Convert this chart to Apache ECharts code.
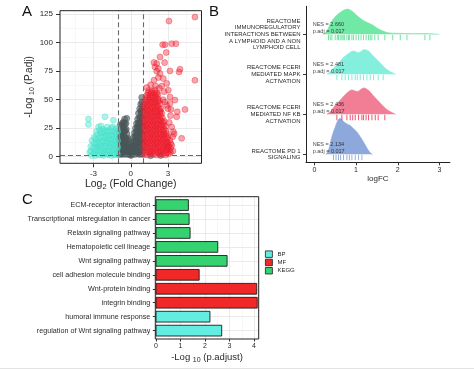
<!DOCTYPE html>
<html>
<head>
<meta charset="utf-8">
<script src="https://cdn.jsdelivr.net/npm/echarts@6/dist/echarts.min.js"></script>
<style>
html,body{margin:0;padding:0;background:#fff;}
#chart{width:474px;height:370px;}
</style>
</head>
<body>
<div id="chart"></div>
<script>
// ---------------- Panel A: volcano plot ----------------
const volcanoXTicks = [-3, 0, 3];
const volcanoYTicks = [0, 25, 50, 75, 100, 125];
const volcanoXMinor = [-4.5, -1.5, 1.5, 4.5];
const volcanoYMinor = [12.5, 37.5, 62.5, 87.5, 112.5];
const foldChangeCutoffs = [-1, 1];
const padjCutoff = 1.3;

const downPoints = [
  [-3.41,33],[-3.41,28.3],[-2.07,35],[-1.4,32],
  [-3.3,4],[-3.22,9],[-3.12,14],[-3.15,1],[-3.0,3],[-2.95,17],[-2.9,8],[-2.85,1],[-2.8,12],[-2.75,22],
  [-2.7,5],[-2.65,8.5],[-2.6,16],[-2.6,26],[-2.55,1.5],[-2.5,10],[-2.45,21],[-2.4,27],[-2.35,4],[-2.3,6],
  [-2.3,14],[-2.25,24],[-2.2,18],[-2.2,1],[-2.12,3],[-2.1,10],[-2.05,20],[-2.0,6],[-1.98,23],[-1.95,14],
  [-1.9,26],[-1.88,2],[-1.8,18],[-1.78,9],[-1.75,2],[-1.7,12],[-1.68,23],[-1.62,5],[-1.6,15],[-1.55,1],
  [-1.5,19],[-1.48,8],[-1.45,26],[-1.4,11],[-1.35,2],[-1.3,15],[-1.28,21],[-1.25,6],[-1.2,24],[-1.15,11],
  [-1.12,18],[-1.08,2],[-1.05,8],[-1.05,14],[-1.05,22],
  [-3.2,4.5],[-3.05,8],[-2.95,12],[-2.9,3],[-2.8,16],[-2.78,6],[-2.7,19],[-2.68,11],[-2.6,3],[-2.55,13],
  [-2.5,23],[-2.5,6],[-2.42,17],[-2.4,9],[-2.35,12],[-2.3,21],[-2.28,2],[-2.2,8],[-2.18,14],[-2.15,22],
  [-2.1,17],[-2.05,4],[-2.0,12],[-1.95,9],[-1.92,19],[-1.85,4],[-1.85,13],[-1.82,22],[-1.75,6],[-1.72,16],
  [-1.65,9],[-1.62,19],[-1.58,25],[-1.55,12],[-1.5,4],[-1.45,15],[-1.42,22],[-1.38,6],[-1.35,18],[-1.3,10],
  [-1.25,2],[-1.22,13],[-1.18,20],[-1.15,7],[-1.12,4],[-1.1,10],[-1.1,25]
];
const nsPoints = [
  [-0.98,2],[-0.98,8],[-0.98,14],[-0.97,20],[-0.9,5],[-0.9,11],[-0.88,17],[-0.88,24],[-0.8,2],[-0.8,8],
  [-0.8,14],[-0.78,20],[-0.76,27],[-0.7,5],[-0.7,11],[-0.68,17],[-0.66,23],[-0.64,30],[-0.6,2],[-0.58,8],
  [-0.57,14],[-0.56,20],[-0.54,26],[-0.5,33],[-0.48,5],[-0.46,11],[-0.45,17],[-0.42,23],[-0.38,29],[-0.36,2],
  [-0.34,8],[-0.32,14],[-0.3,20],[-0.32,33.6],[-0.25,5],[-0.22,11],[-0.2,16],[-0.15,2],[-0.12,7],[-0.08,11],
  [-0.02,3],[0.05,6],[0.1,2],[0.12,9],[0.16,13],[0.2,4],[0.22,17],[0.28,8],[0.3,21],[0.32,13],[0.35,2],
  [0.38,25],[0.4,17],[0.42,7],[0.46,29],[0.48,12],[0.5,21],[0.52,3],[0.55,33],[0.56,26],[0.58,16],[0.6,8],
  [0.62,38],[0.64,21],[0.66,30],[0.68,2],[0.7,12],[0.72,42],[0.74,25],[0.75,35],[0.76,17],[0.78,6],[0.8,46],
  [0.82,30],[0.84,39],[0.85,21],[0.86,11],[0.88,52],[0.9,2],[0.9,34],[0.92,44],[0.93,26],[0.94,16],[0.95,7],
  [-0.94,4],[-0.94,10],[-0.93,16],[-0.92,22],[-0.85,28],[-0.84,3],[-0.84,9],[-0.83,15],[-0.82,21],[-0.74,3],
  [-0.74,9],[-0.73,15],[-0.72,21],[-0.7,27],[-0.64,4],[-0.63,10],[-0.62,16],[-0.6,24],[-0.58,30],[-0.52,3],
  [-0.52,9],[-0.5,15],[-0.5,22],[-0.46,29],[-0.4,4],[-0.4,10],[-0.38,16],[-0.36,24],[-0.28,3],[-0.28,9],
  [-0.26,15],[-0.18,4],[-0.17,9],[-0.05,2],[-0.04,7],[0.02,1],[0.08,4],[0.14,5],[0.18,10],[0.24,6],[0.26,13],
  [0.34,10],[0.36,18],[0.44,4],[0.44,14],[0.44,22],[0.52,8],[0.52,17],[0.53,26],[0.6,3],[0.6,12],[0.6,20],
  [0.6,29],[0.68,8],[0.68,16],[0.69,25],[0.7,34],[0.76,3],[0.78,12],[0.78,21],[0.79,30],[0.8,40],[0.86,5],
  [0.87,15],[0.88,25],[0.88,35],[0.9,48],[0.95,12],[0.95,20],[0.96,30],[0.96,40],
  [2.4,1],[1.6,0.8]
];
const upPoints = [
  [1.05,2],[1.3,1.5],[1.55,2.5],[1.8,2],[2.05,1.5],[2.3,2.5],[2.55,2],[2.8,1.5],[3.05,2.5],
  [1.1,6],[1.35,6.5],[1.6,5.5],[1.85,6],[2.1,6.5],[2.35,5.5],[2.6,6],[2.85,6.5],[3.15,5.5],
  [1.05,10],[1.3,10.5],[1.55,9.5],[1.8,10],[2.05,10.5],[2.3,9.5],[2.55,10],[2.8,10.5],[3.05,9.5],[3.3,10],
  [1.1,14],[1.35,13.5],[1.6,14.5],[1.85,14],[2.1,13.5],[2.35,14.5],[2.6,14],[2.85,13.5],[3.15,14.5],
  [1.05,18],[1.3,18.5],[1.55,17.5],[1.8,18],[2.05,18.5],[2.3,17.5],[2.55,18],[2.8,18.5],[3.0,17.5],
  [1.1,22],[1.35,22.5],[1.6,21.5],[1.85,22],[2.1,22.5],[2.35,21.5],[2.6,22],[2.85,22.5],
  [1.05,26],[1.3,26.5],[1.55,25.5],[1.8,26],[2.05,26.5],[2.3,25.5],[2.55,26],[2.8,26.5],
  [1.1,30],[1.35,29.5],[1.6,30.5],[1.85,30],[2.1,29.5],[2.35,30.5],[2.6,30],[2.7,31],
  [1.05,34],[1.3,34.5],[1.55,33.5],[1.8,34],[2.05,34.5],[2.3,33.5],[2.55,34],
  [1.1,38],[1.35,37.5],[1.6,38.5],[1.85,38],[2.1,37.5],[2.35,38.5],[2.5,38],
  [1.05,42],[1.3,42.5],[1.55,41.5],[1.8,42],[2.05,42.5],[2.3,41.5],[2.45,42],
  [1.1,46],[1.35,45.5],[1.6,46.5],[1.85,46],[2.1,45.5],[2.35,46.5],
  [1.2,50],[1.45,50.5],[1.7,49.5],[1.95,50],[2.2,50.5],[2.3,49],
  [1.3,54],[1.55,54.5],[1.8,53.5],[2.05,54],[2.2,54.5],
  [1.45,58],[1.7,57.5],[1.95,58.5],
  [1.18,4],[1.43,4.2],[1.68,3.8],[1.93,4],[2.18,4.2],[2.43,3.8],[2.68,4],[2.93,4.2],[3.2,3.8],
  [1.18,8],[1.43,8.2],[1.68,7.8],[1.93,8],[2.18,8.2],[2.43,7.8],[2.68,8],[2.95,8.2],[3.22,7.8],
  [1.18,12],[1.43,12.2],[1.68,11.8],[1.93,12],[2.18,12.2],[2.43,11.8],[2.68,12],[2.95,12.2],[3.22,11.8],
  [1.18,16],[1.43,16.2],[1.68,15.8],[1.93,16],[2.18,16.2],[2.43,15.8],[2.68,16],[2.92,16.2],
  [1.18,20],[1.43,20.2],[1.68,19.8],[1.93,20],[2.18,20.2],[2.43,19.8],[2.68,20],[2.9,20.2],
  [1.18,24],[1.43,24.2],[1.68,23.8],[1.93,24],[2.18,24.2],[2.43,23.8],[2.68,24],
  [1.18,28],[1.43,28.2],[1.68,27.8],[1.93,28],[2.18,28.2],[2.43,27.8],[2.65,28],
  [1.18,32],[1.43,32.2],[1.68,31.8],[1.93,32],[2.18,32.2],[2.43,31.8],
  [1.18,36],[1.43,36.2],[1.68,35.8],[1.93,36],[2.18,36.2],[2.4,35.8],
  [1.18,40],[1.43,40.2],[1.68,39.8],[1.93,40],[2.18,40.2],[2.38,39.8],
  [1.18,44],[1.43,44.2],[1.68,43.8],[1.93,44],[2.18,44.2],
  [1.18,48],[1.43,48.2],[1.68,47.8],[1.93,48],[2.18,48.2],
  [1.3,52],[1.55,52.2],[1.8,51.8],[2.05,52],
  [1.4,56],[1.65,56.2],[1.9,55.8],[2.1,56],
  [5.17,122.4],[3.08,118.9],[2.57,98.2],[2.76,98.2],[3.3,99.1],[3.64,99.1],[2.86,91.3],[2.36,87.4],
  [1.87,82.5],[2.09,81.6],[2.73,82.5],[1.95,78.7],[2.22,77.3],[3.97,76.7],[3.89,74.3],[3.16,75.2],
  [2.09,74.9],[2.36,72.9],[5.17,67],[1.87,67],[2.22,69.4],[2.62,68.5],[1.29,60.7],[2.9,64.2],
  [3.02,58.3],[3.16,52.4],[3.56,49.6],[3.16,46.7],[3.24,41.4],[4.37,41.4],[3.75,39.3],[3.7,35],
  [3.43,21.9],[3.38,17.5],[4.1,16.1],[3.02,8.7],[2.9,5.9],
  [2.5,62],[2.7,57],[2.9,45],[3.0,42],[3.2,36],[3.1,30],[3.3,26],[3.5,20],[2.95,12],[3.4,5],
  [2.6,50],[2.75,48],[1.6,63],[2.0,62],[2.3,60]
];

// ---------------- Panel B: ridgeline (bottom to top) ----------------
const pathwayLabels = [
  'REACTOME PD 1\nSIGNALING',
  'REACTOME FCERI\nMEDIATED NF KB\nACTIVATION',
  'REACTOME FCERI\nMEDIATED MAPK\nACTIVATION',
  'REACTOME\nIMMUNOREGULATORY\nINTERACTIONS BETWEEN\nA LYMPHOID AND A NON\nLYMPHOID CELL'
];
const pathwayNES = ['2.134', '2.436', '2.481', '2.660'];
const pathwayPadj = ['0.017', '0.017', '0.017', '0.017'];
const densityPD1 = [[0.28,0],[0.34,0.1],[0.42,0.44],[0.5,0.68],[0.56,0.84],[0.62,0.9],[0.7,0.82],[0.78,0.76],[0.86,0.72],[0.94,0.64],[1.02,0.56],[1.1,0.44],[1.18,0.31],[1.26,0.16],[1.34,0.04],[1.4,0]];
const densityNFKB = [[0.3,0],[0.4,0.08],[0.5,0.22],[0.6,0.33],[0.7,0.45],[0.8,0.55],[0.9,0.61],[1.03,0.57],[1.18,0.66],[1.3,0.6],[1.4,0.48],[1.5,0.37],[1.62,0.24],[1.74,0.12],[1.85,0.05],[1.95,0]];
const densityMAPK = [[0.3,0],[0.4,0.08],[0.5,0.2],[0.6,0.3],[0.7,0.42],[0.82,0.52],[0.94,0.58],[1.06,0.54],[1.2,0.62],[1.3,0.58],[1.4,0.47],[1.5,0.37],[1.62,0.24],[1.74,0.12],[1.85,0.05],[1.95,0]];
const densityImmuno = [[0.22,0],[0.3,0.08],[0.4,0.3],[0.5,0.44],[0.6,0.53],[0.7,0.6],[0.8,0.63],[0.9,0.58],[1.0,0.49],[1.1,0.4],[1.2,0.33],[1.3,0.28],[1.4,0.23],[1.5,0.16],[1.6,0.1],[1.7,0.06],[1.8,0.035],[2.0,0.025],[2.2,0.02],[2.4,0.015],[2.6,0.018],[2.8,0.012],[3.0,0]];
const rugPD1 = [0.46,0.52,0.58,0.63,0.7,0.78,0.84,0.9,0.98,1.06,1.14];
const rugNFKB = [0.54,0.66,0.78,0.86,0.92,0.98,1.06,1.14,1.18,1.24,1.3,1.38,1.46,1.53,1.69];
const rugMAPK = [0.54,0.66,0.74,0.82,0.9,0.98,1.03,1.1,1.18,1.26,1.34,1.42,1.53,1.65];
const rugImmuno = [0.34,0.38,0.42,0.5,0.55,0.58,0.62,0.66,0.69,0.72,0.78,0.82,0.84,0.9,0.94,1.0,1.06,1.12,1.18,1.24,1.3,1.34,1.38,1.45,1.53,1.69,1.88,2.06,2.22,2.65,2.77];
const logFCTicks = [0, 1, 2, 3];
const ridgePositions = [1, 2, 3, 4];

// ---------------- Panel C: enrichment bars (top to bottom) ----------------
const terms = [
  'ECM-receptor interaction',
  'Transcriptional misregulation in cancer',
  'Relaxin signaling pathway',
  'Hematopoietic cell lineage',
  'Wnt signaling pathway',
  'cell adhesion molecule binding',
  'Wnt-protein binding',
  'integrin binding',
  'humoral immune response',
  'regulation of Wnt signaling pathway'
];
const termValues = [1.32, 1.35, 1.39, 2.52, 2.9, 1.76, 4.11, 4.13, 2.2, 2.68];
const termGroups = ['KEGG','KEGG','KEGG','KEGG','KEGG','MF','MF','MF','BP','BP'];
const groupNames = ['BP', 'MF', 'KEGG'];
const padjTicks = [0, 1, 2, 3, 4];
const padjMinor = [0.5, 1.5, 2.5, 3.5];
const termPositions = [1,2,3,4,5,6,7,8,9,10];

// ---------------- styles ----------------
const FONT = '"Liberation Sans", Arial, Helvetica, sans-serif';
const TXT = '#2a2a2a';
const groupColors = { BP: '#62EDE0', MF: '#F02828', KEGG: '#35D36F' };
const ridgeFill = ['#8DA9DB', '#F27E95', '#84EFDC', '#72E8A6'];
const ridgeRug = ['#7E9BD6', '#E8284B', '#5FE3D0', '#4FDB8C'];
const densities = [densityPD1, densityNFKB, densityMAPK, densityImmuno];
const rugs = [rugPD1, rugNFKB, rugMAPK, rugImmuno];

function gridLines(xi, yi, xs, ys, color, width, z) {
  const data = [];
  xs.forEach(v => data.push({ xAxis: v }));
  ys.forEach(v => data.push({ yAxis: v }));
  return {
    type: 'line', xAxisIndex: xi, yAxisIndex: yi, data: [], z: z, silent: true,
    markLine: { silent: true, symbol: 'none', z: z, animation: false, label: { show: false },
      lineStyle: { color: color, width: width, type: 'solid' }, data: data }
  };
}
function richName(main, sub, rest, fs, sfs, pad) {
  return {
    text: '{t|' + main + '}{s|' + sub + '}{t|' + rest + '}',
    rich: { t: { fontSize: fs, color: TXT, fontFamily: FONT },
            s: { fontSize: sfs, color: TXT, fontFamily: FONT, padding: [pad, 0, 0, 0] } }
  };
}
const nameA_x = richName('Log', '2', ' (Fold Change)', 10.5, 7.5, 6);
const nameA_y = richName('-Log ', '10', ' (P.adj)', 10, 7, 6);
const nameC_x = richName('-Log ', '10', ' (p.adjust)', 9.5, 7, 6);

const series = [];
// Panel A grid lines
series.push(gridLines(0, 0, volcanoXMinor, volcanoYMinor, '#F2F2F2', 0.6, 1));
series.push(gridLines(0, 0, volcanoXTicks, volcanoYTicks, '#E8E8E8', 0.9, 1));
const ptStyle = (fill, stroke) => ({ color: fill, borderColor: stroke, borderWidth: 0.7 });
series.push({ type: 'scatter', xAxisIndex: 0, yAxisIndex: 0, z: 3, symbolSize: 6, data: nsPoints,
  itemStyle: ptStyle('rgba(74,86,88,0.75)', 'rgba(74,86,88,0.75)') });
series.push({ type: 'scatter', xAxisIndex: 0, yAxisIndex: 0, z: 3, symbolSize: 6, data: downPoints,
  itemStyle: ptStyle('rgba(86,230,208,0.6)', 'rgba(64,222,198,0.7)') });
series.push({ type: 'scatter', xAxisIndex: 0, yAxisIndex: 0, z: 3, symbolSize: 6, data: upPoints,
  itemStyle: ptStyle('rgba(242,30,42,0.5)', 'rgba(228,28,52,0.65)') });
series.push({ type: 'line', xAxisIndex: 0, yAxisIndex: 0, data: [], z: 6, silent: true,
  markLine: { silent: true, symbol: 'none', z: 6, animation: false, label: { show: false },
    lineStyle: { color: '#6a6a6a', width: 1.1, type: [5, 3] },
    data: foldChangeCutoffs.map(v => ({ xAxis: v })).concat([{ yAxis: padjCutoff }]) } });

// Panel B ridges
densities.forEach((d, i) => {
  const base = ridgePositions[i];
  series.push({ type: 'line', xAxisIndex: 1, yAxisIndex: 1, z: 2, smooth: 0.3,
    symbol: 'none', silent: true, lineStyle: { width: 0.6, color: ridgeFill[i] },
    areaStyle: { color: ridgeFill[i], opacity: 1, origin: base },
    data: d.map(p => [p[0], base + p[1]]) });
  series.push({ type: 'scatter', xAxisIndex: 1, yAxisIndex: 1, z: 3, symbol: 'rect', symbolSize: [1, 5.5],
    silent: true, itemStyle: { color: ridgeRug[i] }, data: rugs[i].map(x => [x, base - 0.08]) });
});
const nesLabels = [];
ridgePositions.forEach((b, i) => {
  nesLabels.push({ name: 'NES = ' + pathwayNES[i], value: [-0.04, b + 0.25] });
  nesLabels.push({ name: 'p.adj = ' + pathwayPadj[i], value: [-0.04, b + 0.07] });
});
series.push({ type: 'scatter', xAxisIndex: 1, yAxisIndex: 1, z: 5, symbolSize: 0.1, silent: true,
  itemStyle: { color: 'rgba(0,0,0,0)' }, data: nesLabels,
  label: { show: true, position: 'right', distance: 0, formatter: '{b}', fontSize: 5.5,
    color: '#111', fontFamily: FONT } });

// Panel C
series.push(gridLines(2, 2, padjMinor, [], '#F2F2F2', 0.6, 1));
series.push(gridLines(2, 2, padjTicks, termPositions, '#E8E8E8', 0.9, 1));
groupNames.forEach(g => {
  const data = [];
  terms.forEach((t, i) => { if (termGroups[i] === g) data.push([termValues[i], termPositions[i]]); });
  series.push({ type: 'custom', name: g, xAxisIndex: 2, yAxisIndex: 2, z: 3,
    itemStyle: { color: groupColors[g] },
    encode: { x: 0, y: 1 }, data: data,
    renderItem: (params, api) => {
      const v = api.value(0), idx = api.value(1);
      const p0 = api.coord([0, idx]);
      const p1 = api.coord([v, idx]);
      const h = Math.abs(api.size([0, 0.77])[1]);
      return { type: 'rect', shape: { x: p0[0], y: p0[1] - h / 2, width: p1[0] - p0[0], height: h },
        style: { fill: groupColors[g], stroke: '#1e1e1e', lineWidth: 0.9 } };
    } });
});

function axisCommon(ticks, tickLen, fs, margin) {
  return {
    axisLine: { show: false, onZero: false },
    splitLine: { show: false },
    axisTick: { show: true, customValues: ticks, length: tickLen, lineStyle: { color: '#333', width: 1 } },
    axisLabel: { customValues: ticks, fontSize: fs, color: TXT, margin: margin, fontFamily: FONT }
  };
}

const option = {
  animation: false,
  textStyle: { fontFamily: FONT },
  grid: [
    { left: 60, top: 10.7, width: 141.5, height: 152.6, show: true, borderColor: '#222', borderWidth: 1,
      backgroundColor: 'transparent', z: 10 },
    { left: 306, top: 6.3, width: 143.9, height: 156 },
    { left: 155.3, top: 196.7, width: 103.4, height: 142.3, show: true, borderColor: '#222', borderWidth: 1,
      backgroundColor: 'transparent', z: 10 }
  ],
  xAxis: [
    Object.assign({ type: 'value', gridIndex: 0, min: -5.7, max: 5.7,
      name: nameA_x.text, nameLocation: 'middle', nameGap: 14, nameTextStyle: { rich: nameA_x.rich } },
      axisCommon(volcanoXTicks, 4, 8, 6.5)),
    Object.assign({ type: 'value', gridIndex: 1, min: -0.2, max: 3.25,
      name: 'logFC', nameLocation: 'middle', nameGap: 11, nameTextStyle: { fontSize: 8, color: TXT } },
      axisCommon(logFCTicks, 3, 7, 4.5), { axisLine: { show: true, onZero: false, lineStyle: { color: '#222', width: 1 } } }),
    Object.assign({ type: 'value', gridIndex: 2, min: -0.03, max: 4.19,
      name: nameC_x.text, nameLocation: 'middle', nameGap: 12, nameTextStyle: { rich: nameC_x.rich } },
      axisCommon(padjTicks, 2.5, 7, 3.5))
  ],
  yAxis: [
    Object.assign({ type: 'value', gridIndex: 0, min: -5.8, max: 128,
      name: nameA_y.text, nameLocation: 'middle', nameGap: 21, nameTextStyle: { rich: nameA_y.rich } },
      axisCommon(volcanoYTicks, 4, 8, 7)),
    (function () {
      const a = Object.assign({ type: 'value', gridIndex: 1, min: 0.8, max: 4.7 },
        axisCommon(ridgePositions, 3, 6, 5.5));
      a.axisLine = { show: true, onZero: false, lineStyle: { color: '#222', width: 1 } };
      a.axisLabel = Object.assign({}, a.axisLabel, { lineHeight: 6.7, align: 'right',
        formatter: v => pathwayLabels[Math.round(v) - 1] });
      return a;
    })(),
    (function () {
      const a = Object.assign({ type: 'value', gridIndex: 2, min: 0.4, max: 10.6, inverse: true },
        axisCommon(termPositions, 2.5, 7.2, 5));
      a.axisLabel = Object.assign({}, a.axisLabel, { formatter: v => terms[Math.round(v) - 1] });
      return a;
    })()
  ],
  legend: {
    orient: 'vertical', left: 265, top: 250.5, padding: 0, itemWidth: 7, itemHeight: 6.5, itemGap: 1,
    selectedMode: false,
    textStyle: { fontSize: 6, color: TXT, fontFamily: FONT },
    data: groupNames.map(g => ({ name: g, icon: 'rect',
      itemStyle: { color: groupColors[g], borderColor: '#1e1e1e', borderWidth: 0.8 } }))
  },
  graphic: [
    { type: 'text', left: 22, top: 4, style: { text: 'A', fontSize: 15, fill: '#111', fontFamily: FONT } },
    { type: 'text', left: 209, top: 4, style: { text: 'B', fontSize: 15, fill: '#111', fontFamily: FONT } },
    { type: 'text', left: 22, top: 192, style: { text: 'C', fontSize: 15, fill: '#111', fontFamily: FONT } },
    { type: 'line', shape: { x1: 0, y1: 368.5, x2: 474, y2: 368.5 }, style: { stroke: '#e2e2e2', lineWidth: 1 } }
  ],
  series: series
};

const chart = echarts.init(document.getElementById('chart'));
chart.setOption(option);
</script>
</body>
</html>
